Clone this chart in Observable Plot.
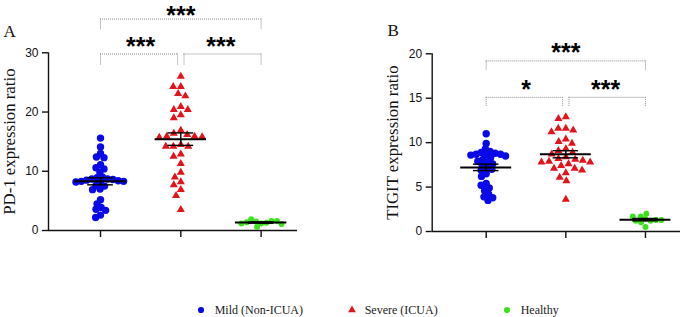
<!DOCTYPE html>
<html><head><meta charset="utf-8">
<script src="https://cdn.jsdelivr.net/npm/d3@7"></script>
<script src="https://cdn.jsdelivr.net/npm/@observablehq/plot@0.6"></script>
<style>
body{margin:0;background:#fff;}
#root{position:relative;width:699px;height:317px;overflow:hidden;background:#fff;}
#pa{position:absolute;left:0;top:0;}
#pb{position:absolute;left:370px;top:0;}
.leg{position:absolute;top:303px;height:14px;display:flex;align-items:center;font-family:"Liberation Serif","Times New Roman",serif;font-size:12px;color:#222;white-space:nowrap;}
</style></head><body>
<div id="root"><div id="pa"></div><div id="pb"></div><div id="legend"></div></div>
<script>
// ---- data ----
const groups = ["Mild (Non-ICUA)", "Severe (ICUA)", "Healthy"];

const pd1Mild = [15.6, 14.1, 13.0, 12.4, 12.3, 11.1, 10.6, 10.4, 9.8, 9.0, 8.9, 8.7, 8.7, 8.6, 8.5, 8.4, 8.3, 8.3, 8.2, 8.1, 7.6, 7.5, 7.0, 6.9, 5.2, 4.5, 3.9, 3.6, 3.4, 2.6, 2.2];
const pd1Severe = [26.0, 24.3, 24.3, 23.1, 22.7, 20.9, 20.4, 20.4, 19.5, 19.0, 16.9, 16.4, 16.2, 15.9, 15.9, 15.8, 15.7, 14.5, 14.2, 14.2, 14.2, 12.9, 12.5, 11.3, 9.8, 9.0, 8.2, 7.7, 6.9, 5.9, 3.5];
const pd1Healthy = [1.2, 1.5, 1.3, 1.6, 1.9, 1.4, 1.6, 1.2, 1.1, 0.6];

const tigitMild = [11.0, 9.9, 9.3, 9.0, 8.9, 8.8, 8.7, 8.7, 8.6, 8.6, 8.5, 8.3, 8.1, 7.9, 7.8, 7.6, 7.5, 7.2, 7.0, 6.9, 6.5, 6.2, 5.4, 5.2, 4.9, 4.6, 4.2, 3.9, 3.8, 3.5];
const tigitSevere = [12.9, 12.7, 11.6, 11.6, 11.4, 11.2, 10.4, 10.1, 9.9, 9.3, 9.1, 8.9, 8.7, 8.4, 8.2, 8.1, 8.0, 7.9, 7.8, 7.8, 7.6, 7.4, 7.1, 7.1, 6.9, 6.6, 6.1, 5.7, 3.6];
const tigitHealthy = [1.4, 1.05, 1.2, 1.2, 1.3, 1.7, 2.0, 1.7, 0.5, 1.3];

const pd1Ticks = [0, 10, 20, 30];
const tigitTicks = [0, 5, 10, 15, 20];

const pd1Brackets = [
  {a: 0, b: 1, y: 29.8, drop: 27.9, label: "***", ty: 31.8},
  {a: 1, b: 2, y: 29.8, drop: 27.9, label: "***", ty: 31.8},
  {a: 0, b: 2, y: 35.7, drop: 33.9, label: "***", ty: 37.1}
];
const tigitBrackets = [
  {a: 0, b: 1, y: 15.1, drop: 14.0, label: "*", ty: 16.5},
  {a: 1, b: 2, y: 15.1, drop: 14.0, label: "***", ty: 16.5},
  {a: 0, b: 2, y: 19.2, drop: 18.05, label: "***", ty: 20.6}
];

// ---- styles ----
const colors = ["#0a0ae8", "#e3131b", "#3ee020"];
const symbols = ["circle", "triangle", "circle"];
const radii = [3.7, 3.0, 3.0];
const spacing = [5.4, 7.6, 5.4];
const ink = "#111";

// beeswarm offsets (pixels) centred on each category
function swarm(vals, yS, diam) {
  const placed = [], out = [];
  vals.forEach(v => {
    const py = yS(v);
    const forb = [];
    for (const p of placed) {
      const dy = Math.abs(p.y - py);
      if (dy < diam) { const w = Math.sqrt(diam * diam - dy * dy); forb.push([p.x - w, p.x + w]); }
    }
    const cands = [0];
    forb.forEach(([a, b]) => cands.push(a, b));
    cands.sort((a, b) => Math.abs(a) - Math.abs(b));
    let x = 0;
    for (const c of cands) {
      if (forb.every(([a, b]) => c <= a + 1e-6 || c >= b - 1e-6)) { x = c; break; }
    }
    placed.push({x, y: py});
    out.push(x);
  });
  return out;
}

function panel(cfg) {
  const {width, height, mL, mR, mT, mB, xDom, yDom} = cfg;
  const pxX = (width - mL - mR) / (xDom[1] - xDom[0]);
  const yS = d3.scaleLinear(yDom, [height - mB, mT]);
  const stats = cfg.series.map((vals, g) => ({g, mean: d3.mean(vals), sem: d3.deviation(vals) / Math.sqrt(vals.length)}));
  const dotMarks = cfg.series.map((vals, g) => {
    const offs = swarm(vals, yS, spacing[g]);
    const rows = vals.map((v, k) => ({v, x: g + offs[k] / pxX}));
    return Plot.dot(rows, {x: "x", y: "v", r: radii[g], symbol: symbols[g], fill: colors[g], stroke: "none"});
  });
  const gapL = b => b === 1 ? 0.04 : 0;
  const serif = "'Liberation Serif', 'Times New Roman', serif";
  return Plot.plot({
    width, height,
    marginLeft: mL, marginRight: mR, marginTop: mT, marginBottom: mB,
    x: {domain: xDom},
    y: {domain: yDom},
    style: {background: "transparent", fontFamily: "'Liberation Sans', Arial, sans-serif", overflow: "visible"},
    marks: [
      Plot.ruleY([yDom[0]], {stroke: ink, strokeWidth: 1.4}),
      Plot.ruleX([xDom[0]], {y1: yDom[0], y2: yDom[1], stroke: ink, strokeWidth: 1.4}),
      Plot.axisY({ticks: cfg.yTicks, tickSize: 6, tickPadding: 4, fontSize: 12, label: null, color: ink, strokeWidth: 1.4}),
      Plot.axisX({ticks: [0, 1, 2], tickSize: 7, tickFormat: () => "", label: null, color: ink, strokeWidth: 1.4}),
      // significance brackets
      Plot.ruleY(cfg.brackets, {x1: d => d.a + gapL(d.a), x2: d => d.b - gapL(d.b), y: "y", stroke: "#8a8a8a", strokeWidth: 1, strokeDasharray: "1,1"}),
      Plot.ruleX(cfg.brackets, {x: d => d.a + gapL(d.a), y1: "y", y2: "drop", stroke: "#8a8a8a", strokeWidth: 1, strokeDasharray: "1,1"}),
      Plot.ruleX(cfg.brackets, {x: d => d.b - gapL(d.b), y1: "y", y2: "drop", stroke: "#8a8a8a", strokeWidth: 1, strokeDasharray: "1,1"}),
      Plot.text(cfg.brackets, {x: d => (d.a + d.b) / 2, y: "ty", text: "label", fontSize: 25, fontWeight: "bold", fontFamily: "'Liberation Sans', Arial, sans-serif", fill: "#000", dy: 5}),
      ...dotMarks,
      // mean +/- SEM
      Plot.ruleY(stats, {x1: d => d.g - 0.32, x2: d => d.g + 0.32, y: "mean", stroke: "#000", strokeWidth: 2}),
      Plot.ruleX(stats, {x: "g", y1: d => d.mean - d.sem, y2: d => d.mean + d.sem, stroke: "#000", strokeWidth: 1.4}),
      Plot.ruleY(stats, {x1: d => d.g - 0.16, x2: d => d.g + 0.16, y: d => d.mean + d.sem, stroke: "#000", strokeWidth: 1.4}),
      Plot.ruleY(stats, {x1: d => d.g - 0.16, x2: d => d.g + 0.16, y: d => d.mean - d.sem, stroke: "#000", strokeWidth: 1.4}),
      // titles
      Plot.text([cfg.title], {text: d => d, frameAnchor: "left", textAnchor: "middle", lineAnchor: "middle", dx: cfg.titleX - mL, rotate: -90, fontFamily: serif, fontSize: 16.8, fill: ink}),
      Plot.text([cfg.letter], {text: d => d, frameAnchor: "top-left", dx: cfg.letterX - mL, dy: cfg.letterY - mT, textAnchor: "start", lineAnchor: "bottom", fontFamily: serif, fontSize: 17, fill: ink})
    ]
  });
}

document.getElementById("pa").append(panel({
  width: 300, height: 240, mL: 48, mR: 3, mT: 52.3, mB: 10,
  xDom: [-0.6476, 2.453], yDom: [0, 30], yTicks: pd1Ticks,
  series: [pd1Mild, pd1Severe, pd1Healthy], brackets: pd1Brackets,
  title: "PD-1 expression ratio", titleX: 9.5, letter: "A", letterX: 3, letterY: 36
}));
document.getElementById("pb").append(panel({
  width: 329, height: 240, mL: 61.7, mR: 19, mT: 53.3, mB: 9,
  xDom: [-0.678, 2.44], yDom: [0, 20], yTicks: tigitTicks,
  series: [tigitMild, tigitSevere, tigitHealthy], brackets: tigitBrackets,
  title: "TIGIT expression ratio", titleX: 21.7, letter: "B", letterX: 17, letterY: 35
}));

// legend
const legendLeft = [196.7, 347.7, 502.7];
const leg = document.getElementById("legend");
groups.forEach((name, g) => {
  const item = document.createElement("div");
  item.className = "leg";
  item.style.left = legendLeft[g] + "px";
  const sym = d3.symbol(g === 1 ? d3.symbolTriangle : d3.symbolCircle, g === 1 ? 26 : 30)();
  item.innerHTML = `<svg width="8" height="8" viewBox="-4 -4 8 8" style="overflow:visible;margin-right:${g === 1 ? 9 : 10}px"><path d="${sym}" fill="${colors[g]}"/></svg>`;
  const span = document.createElement("span");
  span.textContent = name;
  item.append(span);
  leg.append(item);
});
</script>
</body></html>
